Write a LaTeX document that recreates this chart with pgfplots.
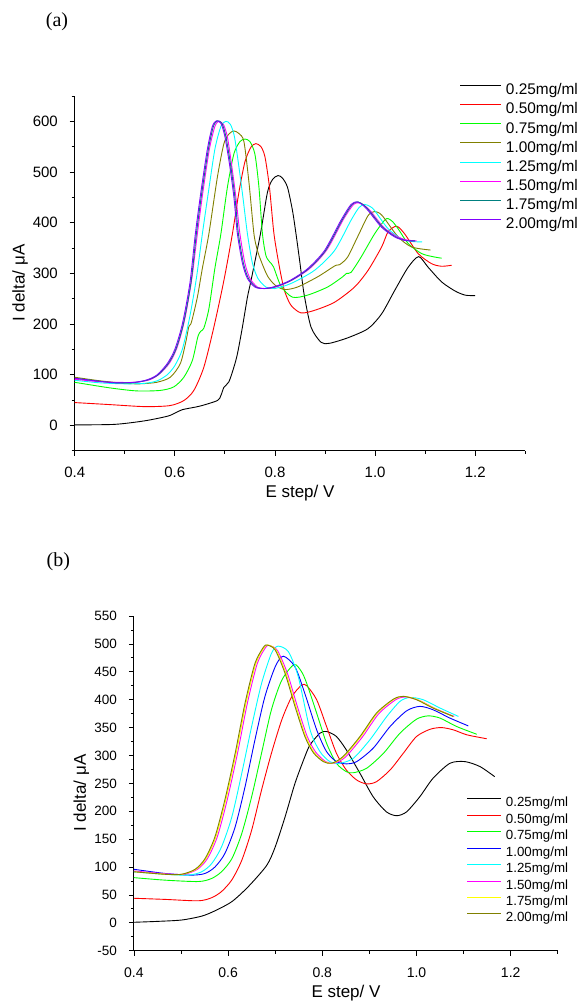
\documentclass[border=0pt]{standalone}
\usepackage{pgfplots}
\pgfplotsset{compat=1.18}
\usepackage{fontspec}
\setmainfont{Liberation Sans}
\newfontfamily\seriffont{Liberation Serif}

\definecolor{cteal}{RGB}{0,128,128}
\definecolor{cpurple}{RGB}{128,0,255}
\definecolor{colive}{RGB}{128,128,0}
\definecolor{cgreen}{RGB}{0,255,0}
\definecolor{cred}{RGB}{255,0,0}
\definecolor{ccyan}{RGB}{0,255,255}
\definecolor{cmag}{RGB}{255,0,255}
\definecolor{cyel}{RGB}{255,255,0}
\definecolor{cblue}{RGB}{0,0,255}

\pgfplotsset{
  mystyle/.style={
    scale only axis,
    axis x line*=bottom, axis y line*=left,
    axis line style={-, line width=0.9pt},
    xmin=0.4, xmax=1.3,
    tick align=outside,
    major tick length=5pt, minor tick length=3pt,
    every tick/.style={black, line width=0.8pt},
    xtick={0.4,0.6,0.8,1.0,1.2},
    xticklabels={0.4,0.6,0.8,1.0,1.2},
    minor xtick={0.5,0.7,0.9,1.1,1.3},
    every axis plot/.append style={line width=0.9pt, smooth, tension=0.45},
    legend cell align=left,
  }
}

\begin{document}
\begin{tikzpicture}
\path[use as bounding box] (0pt,0pt) rectangle (580pt,-1002pt);

\node[font=\seriffont\fontsize{20}{20}\selectfont] at (57pt,-21.7pt) {(a)};
\node[font=\seriffont\fontsize{20}{20}\selectfont] at (58.4pt,-561.7pt) {(b)};
\node[font=\fontsize{17}{17}\selectfont, rotate=90] at (20pt,-283pt) {I delta/ μA};
\node[font=\fontsize{17}{17}\selectfont] at (300pt,-493pt) {E step/ V};
\node[font=\fontsize{17}{17}\selectfont, rotate=90] at (81.4pt,-793pt) {I delta/ μA};
\node[font=\fontsize{17}{17}\selectfont] at (346pt,-992.7pt) {E step/ V};

% ---------------- panel (a)
\begin{axis}[mystyle,
  at={(74.7pt,-450.7pt)}, anchor=south west,
  width=450.6pt, height=354.7pt,
  ymin=-50, ymax=650,
  ytick={0,100,200,300,400,500,600},
  yticklabels={0,100,200,300,400,500,600},
  minor ytick={-50,50,150,250,350,450,550,650},
  xticklabel style={font=\fontsize{15}{15}\selectfont, anchor=north, inner sep=0pt, yshift=-11.5pt},
  yticklabel style={font=\fontsize{15}{15}\selectfont, anchor=east, inner sep=0pt, xshift=-11.7pt},
  legend style={draw=none, fill=none, at={(axis description cs:0.855,1.0344)}, anchor=north west,
    inner sep=0pt, outer sep=0pt, row sep=4.64pt, column sep=4pt,
    font=\fontsize{15.4}{15.4}\selectfont,
    nodes={inner sep=0pt, text height=11pt, text depth=3.5pt}},
  legend image code/.code={\draw[#1, line width=1pt] (0pt,5.5pt) -- (41pt,5.5pt);},
]
\addplot[black] coordinates {(0.400,1)(0.480,2)(0.540,9)(0.585,18)(0.600,24)(0.615,31)(0.650,38)(0.685,49)(0.692,59)(0.698,75)(0.708,86)(0.718,115)(0.725,141)(0.735,194)(0.745,253)(0.752,285)(0.771,378)(0.785,460)(0.795,485)(0.806,493)(0.815,488)(0.825,470)(0.835,424)(0.842,378)(0.850,320)(0.858,260)(0.872,194)(0.892,164)(0.909,162)(0.946,173)(0.986,191)(1.013,220)(1.039,266)(1.066,312)(1.087,333)(1.106,312)(1.133,283)(1.160,265)(1.180,257)(1.200,256)};
\addlegendentry{0.25mg/ml}
\addplot[cred] coordinates {(0.400,45)(0.470,41)(0.540,37)(0.590,39)(0.618,49)(0.638,69)(0.658,115)(0.678,194)(0.698,286)(0.715,378)(0.728,460)(0.740,520)(0.752,549)(0.762,556)(0.772,550)(0.780,530)(0.789,470)(0.798,378)(0.809,312)(0.819,266)(0.832,237)(0.852,222)(0.879,227)(0.919,243)(0.959,273)(0.986,306)(1.013,352)(1.026,382)(1.043,393)(1.059,378)(1.086,339)(1.113,319)(1.133,314)(1.153,316)};
\addlegendentry{0.50mg/ml}
\addplot[cgreen] coordinates {(0.400,85)(0.470,74)(0.524,68)(0.571,69)(0.598,76)(0.618,95)(0.635,128)(0.646,175)(0.652,186)(0.658,192)(0.668,230)(0.680,310)(0.692,378)(0.705,470)(0.718,536)(0.730,560)(0.740,565)(0.750,560)(0.760,535)(0.768,470)(0.775,378)(0.782,335)(0.790,322)(0.797,313)(0.812,275)(0.835,253)(0.865,257)(0.905,273)(0.935,293)(0.943,300)(0.952,302)(0.972,332)(0.999,378)(1.019,405)(1.026,408)(1.035,402)(1.046,388)(1.066,359)(1.093,339)(1.120,332)(1.133,330)};
\addlegendentry{0.75mg/ml}
\addplot[colive] coordinates {(0.400,95)(0.450,88)(0.500,83)(0.530,82)(0.564,85)(0.591,95)(0.611,122)(0.622,165)(0.628,195)(0.633,203)(0.645,253)(0.655,310)(0.668,378)(0.685,490)(0.698,556)(0.708,575)(0.718,581)(0.728,576)(0.738,560)(0.748,480)(0.758,378)(0.765,345)(0.772,325)(0.785,295)(0.800,277)(0.819,268)(0.845,273)(0.885,293)(0.915,312)(0.922,316)(0.929,317)(0.945,332)(0.965,372)(0.986,414)(0.999,422)(1.010,418)(1.019,408)(1.046,372)(1.073,352)(1.111,346)};
\addlegendentry{1.00mg/ml}
\addplot[ccyan] coordinates {(0.400,89)(0.450,84)(0.500,82)(0.540,83)(0.565,88)(0.585,100)(0.600,118)(0.615,150)(0.630,215)(0.643,290)(0.655,378)(0.667,460)(0.680,545)(0.692,590)(0.702,600)(0.711,594)(0.719,570)(0.728,510)(0.736,450)(0.745,378)(0.755,320)(0.766,290)(0.782,273)(0.799,270)(0.832,280)(0.879,306)(0.919,345)(0.952,405)(0.968,430)(0.979,436)(0.990,432)(0.999,424)(1.026,388)(1.053,368)(1.073,363)(1.094,362)};
\addlegendentry{1.25mg/ml}
\addplot[cmag] coordinates {(0.400,91)(0.440,87)(0.480,85)(0.520,85)(0.550,90)(0.570,102)(0.590,124)(0.605,155)(0.620,210)(0.634,290)(0.645,378)(0.656,460)(0.669,545)(0.680,590)(0.688,600)(0.697,594)(0.705,569)(0.714,510)(0.722,450)(0.730,378)(0.740,320)(0.750,290)(0.765,273)(0.782,270)(0.805,274)(0.835,287)(0.870,310)(0.904,347)(0.937,407)(0.957,436)(0.969,439)(0.980,433)(0.991,423)(1.017,391)(1.043,373)(1.063,366)(1.083,364)};
\addlegendentry{1.50mg/ml}
\addplot[cteal] coordinates {(0.402,93)(0.442,88)(0.482,84)(0.522,85)(0.547,90)(0.567,100)(0.587,122)(0.602,150)(0.617,200)(0.632,280)(0.643,378)(0.654,460)(0.667,545)(0.677,590)(0.685,601)(0.694,596)(0.702,570)(0.712,510)(0.720,450)(0.727,378)(0.737,320)(0.747,290)(0.762,273)(0.780,270)(0.802,274)(0.832,286)(0.867,309)(0.901,345)(0.934,405)(0.954,436)(0.966,441)(0.977,435)(0.988,424)(1.015,391)(1.041,372)(1.061,365)(1.080,364)};
\addlegendentry{1.75mg/ml}
\addplot[cpurple] coordinates {(0.400,93)(0.440,88)(0.480,84)(0.520,85)(0.545,90)(0.565,100)(0.585,122)(0.600,150)(0.615,200)(0.630,280)(0.641,378)(0.652,460)(0.665,545)(0.675,590)(0.683,601)(0.692,596)(0.700,570)(0.710,510)(0.718,450)(0.725,378)(0.735,320)(0.745,290)(0.760,273)(0.778,270)(0.800,274)(0.830,286)(0.865,309)(0.899,345)(0.932,405)(0.952,436)(0.964,441)(0.975,435)(0.986,424)(1.013,391)(1.039,372)(1.059,365)(1.079,364)};
\addlegendentry{2.00mg/ml}
\end{axis}

% ---------------- panel (b)
\begin{axis}[mystyle,
  at={(133.9pt,-950.7pt)}, anchor=south west,
  width=423.9pt, height=334.7pt,
  ymin=-50, ymax=550,
  ytick={-50,0,50,100,150,200,250,300,350,400,450,500,550},
  yticklabels={-50,0,50,100,150,200,250,300,350,400,450,500,550},
  minor ytick={-25,25,75,125,175,225,275,325,375,425,475,525},
  xticklabel style={font=\fontsize{14}{14}\selectfont, anchor=north, inner sep=0pt, yshift=-11.5pt},
  yticklabel style={font=\fontsize{13.5}{13.5}\selectfont, anchor=east, inner sep=0pt, xshift=-11.7pt},
  legend style={draw=none, fill=none, at={(axis description cs:0.7858,0.4586)}, anchor=north west,
    inner sep=0pt, outer sep=0pt, row sep=3.43pt, column sep=4pt,
    font=\fontsize{13.3}{13.3}\selectfont,
    nodes={inner sep=0pt, text height=9.7pt, text depth=3.3pt}},
  legend image code/.code={\draw[#1, line width=1pt] (0pt,4.8pt) -- (34pt,4.8pt);},
]
\addplot[black] coordinates {(0.400,1)(0.445,2.4)(0.501,5)(0.544,12)(0.572,21.5)(0.608,38)(0.643,65)(0.682,103)(0.700,136)(0.721,190)(0.742,250)(0.763,298)(0.774,319)(0.795,340)(0.809,343)(0.830,334)(0.851,310)(0.880,268)(0.908,226)(0.936,199)(0.958,192)(0.979,199)(1.007,226)(1.035,259)(1.071,286)(1.103,289)(1.135,280)(1.166,262)};
\addlegendentry{0.25mg/ml}
\addplot[cred] coordinates {(0.400,44)(0.466,42)(0.537,39.5)(0.565,45)(0.586,56)(0.608,77)(0.629,112)(0.650,166)(0.671,238)(0.692,304)(0.714,364)(0.735,405)(0.756,426)(0.767,425)(0.788,400)(0.809,352)(0.830,304)(0.851,274)(0.873,256)(0.894,249)(0.915,253)(0.944,274)(0.972,304)(1.000,334)(1.029,347)(1.053,350)(1.078,346)(1.107,337)(1.149,330)};
\addlegendentry{0.50mg/ml}
\addplot[cgreen] coordinates {(0.400,81)(0.466,76.5)(0.537,74)(0.565,79.5)(0.586,91.5)(0.608,115)(0.629,160)(0.650,226)(0.671,304)(0.692,382)(0.714,435)(0.740,463)(0.756,450)(0.767,429)(0.788,376)(0.809,322)(0.830,286)(0.851,271)(0.866,269)(0.894,277)(0.930,304)(0.965,340)(1.000,365)(1.025,371)(1.050,367)(1.085,352)(1.128,338)};
\addlegendentry{0.75mg/ml}
\addplot[cblue] coordinates {(0.400,96)(0.466,88.5)(0.523,85.5)(0.551,88.5)(0.572,100)(0.593,124)(0.615,172)(0.636,244)(0.657,328)(0.678,405)(0.700,459)(0.717,478)(0.742,459)(0.763,411)(0.788,346)(0.809,307)(0.830,289)(0.851,285)(0.873,289)(0.908,313)(0.944,352)(0.979,380)(1.007,388)(1.035,382)(1.071,367)(1.110,353)};
\addlegendentry{1.00mg/ml}
\addplot[ccyan] coordinates {(0.400,91.5)(0.466,87)(0.516,85.5)(0.544,91.5)(0.565,106)(0.586,136)(0.608,190)(0.629,268)(0.650,352)(0.671,429)(0.692,483)(0.706,496)(0.728,486)(0.749,441)(0.774,346)(0.795,307)(0.816,289)(0.837,286)(0.866,295)(0.901,328)(0.937,370)(0.965,397)(0.986,404)(1.014,400)(1.050,385)(1.089,370)};
\addlegendentry{1.25mg/ml}
\addplot[cmag] coordinates {(0.400,93)(0.466,88)(0.506,87)(0.535,96)(0.556,115)(0.577,154)(0.598,220)(0.620,304)(0.641,394)(0.662,465)(0.680,494)(0.688,497)(0.705,488)(0.726,447)(0.747,388)(0.768,334)(0.786,306)(0.807,289)(0.825,286)(0.849,297)(0.885,333)(0.920,375)(0.956,400)(0.977,405)(1.005,399)(1.040,384)(1.080,370)};
\addlegendentry{1.50mg/ml}
\addplot[cyel] coordinates {(0.402,91.5)(0.468,87)(0.503,87)(0.532,96)(0.553,115)(0.574,154)(0.595,220)(0.617,304)(0.638,394)(0.659,465)(0.677,494)(0.685,498)(0.702,489)(0.723,447)(0.744,388)(0.765,334)(0.783,305)(0.804,289)(0.822,286)(0.846,298)(0.882,334)(0.917,376)(0.953,401)(0.974,406)(1.002,400)(1.037,385)(1.078,370)};
\addlegendentry{1.75mg/ml}
\addplot[colive] coordinates {(0.400,91.5)(0.466,87)(0.501,87)(0.530,96)(0.551,115)(0.572,154)(0.593,220)(0.615,304)(0.636,394)(0.657,465)(0.675,494)(0.683,498)(0.700,489)(0.721,447)(0.742,388)(0.763,334)(0.781,305)(0.802,289)(0.820,286)(0.844,298)(0.880,334)(0.915,376)(0.951,401)(0.972,406)(1.000,400)(1.035,385)(1.078,370)};
\addlegendentry{2.00mg/ml}
\end{axis}
\end{tikzpicture}
\end{document}
